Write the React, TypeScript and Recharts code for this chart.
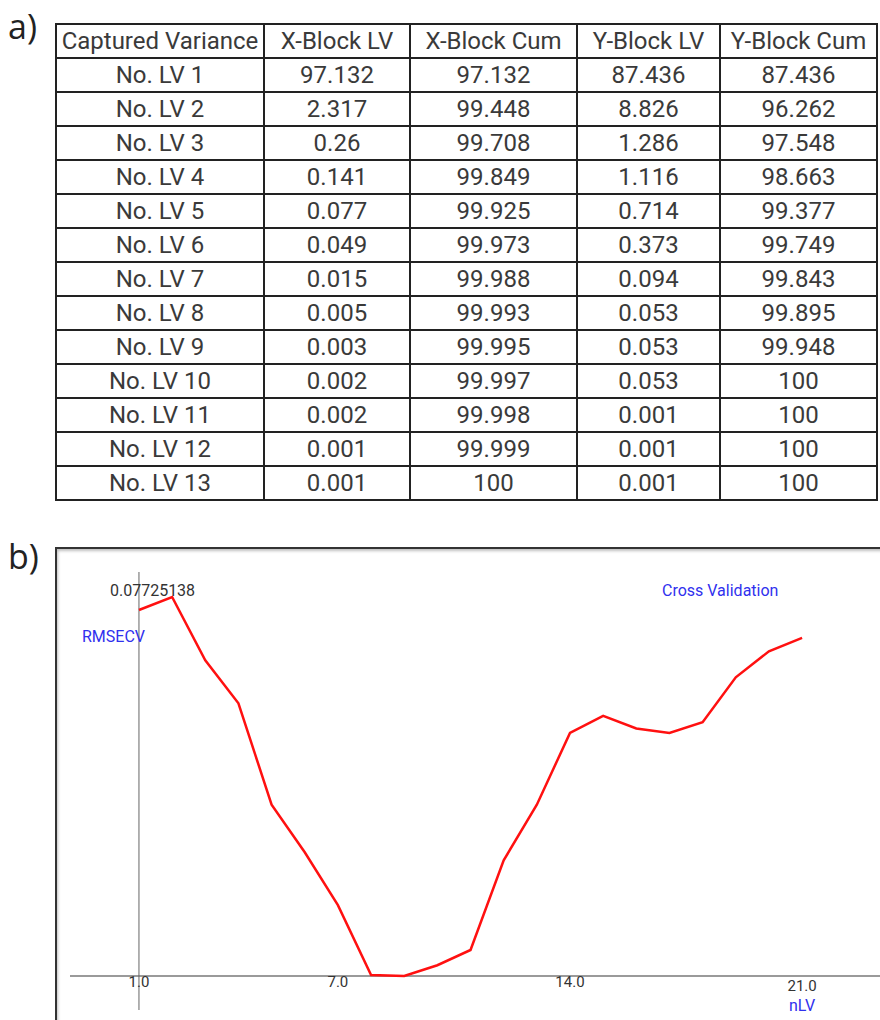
import React from 'react';
import { LineChart, Line, XAxis, YAxis, ReferenceLine, ReferenceDot } from 'recharts';

const tableHeaders = ['Captured Variance', 'X-Block LV', 'X-Block Cum', 'Y-Block LV', 'Y-Block Cum'];
const lvNames = ['No. LV 1', 'No. LV 2', 'No. LV 3', 'No. LV 4', 'No. LV 5', 'No. LV 6', 'No. LV 7', 'No. LV 8', 'No. LV 9', 'No. LV 10', 'No. LV 11', 'No. LV 12', 'No. LV 13'];
const xBlockLV = ['97.132', '2.317', '0.26', '0.141', '0.077', '0.049', '0.015', '0.005', '0.003', '0.002', '0.002', '0.001', '0.001'];
const xBlockCum = ['97.132', '99.448', '99.708', '99.849', '99.925', '99.973', '99.988', '99.993', '99.995', '99.997', '99.998', '99.999', '100'];
const yBlockLV = ['87.436', '8.826', '1.286', '1.116', '0.714', '0.373', '0.094', '0.053', '0.053', '0.053', '0.001', '0.001', '0.001'];
const yBlockCum = ['87.436', '96.262', '97.548', '98.663', '99.377', '99.749', '99.843', '99.895', '99.948', '100', '100', '100', '100'];

const nLV = [1, 2, 3, 4, 5, 6, 7, 8, 9, 10, 11, 12, 13, 14, 15, 16, 17, 18, 19, 20, 21];
const rmsecv = [0.0758, 0.07725138, 0.0702, 0.0654, 0.0541, 0.0488, 0.0429, 0.0351, 0.035, 0.0362, 0.0379, 0.0479, 0.0541, 0.0621, 0.064, 0.0626, 0.0621, 0.0633, 0.0683, 0.0712, 0.0727];
const xTicks = [1, 7, 14, 21];
const xTickLabels = ['1.0', '7.0', '14.0', '21.0'];
const yMin = 0.035;
const yMaxLabel = '0.07725138';

const chartData = nLV.map((n, i) => ({ nLV: n, rmsecv: rmsecv[i] }));

const cellBorder = '2px solid #222';
const colWidths = [208, 146, 167, 143, 157];

const FONT = 'Roboto, "Noto Sans", sans-serif';

export default function App() {
  const rows = lvNames.map((name, i) => [name, xBlockLV[i], xBlockCum[i], yBlockLV[i], yBlockCum[i]]);
  return (
    <div style={{ position: 'absolute', left: 0, top: 0, width: 880, height: 1020, overflow: 'hidden', background: '#fff', fontFamily: FONT }}>
      <div style={{ position: 'absolute', left: 8, top: 8, fontSize: 34, fontFamily: '"Open Sans", sans-serif', color: '#222', lineHeight: '36px' }}>a)</div>
      <table style={{ position: 'absolute', left: 55, top: 23, borderCollapse: 'collapse', tableLayout: 'fixed', width: 821, fontSize: 24, color: '#3a3a3a' }}>
        <colgroup>
          {colWidths.map((w, i) => <col key={i} style={{ width: w }} />)}
        </colgroup>
        <tbody>
          <tr style={{ height: 34 }}>
            {tableHeaders.map((h, i) => (
              <td key={i} style={{ border: cellBorder, padding: 0, textAlign: 'center', whiteSpace: 'nowrap', lineHeight: '30px', overflow: 'visible' }}>{h}</td>
            ))}
          </tr>
          {rows.map((r, ri) => (
            <tr key={ri} style={{ height: 34 }}>
              {r.map((c, ci) => (
                <td key={ci} style={{ border: cellBorder, padding: 0, textAlign: 'center', whiteSpace: 'nowrap', lineHeight: '30px' }}>{c}</td>
              ))}
            </tr>
          ))}
        </tbody>
      </table>

      <div style={{ position: 'absolute', left: 8, top: 538, fontSize: 34, fontFamily: '"Open Sans", sans-serif', color: '#222', lineHeight: '36px' }}>b)</div>
      <div style={{ position: 'absolute', left: 55, top: 547, width: 900, height: 600, borderTop: '2px solid #333', borderLeft: '2px solid #333', boxShadow: 'inset 1px 2px 3px rgba(0,0,0,0.25)' }} />

      <div style={{ position: 'absolute', left: 0, top: 548 }}>
        <LineChart width={880} height={472} data={chartData} margin={{ top: 24, right: 0, bottom: 10, left: 70 }}>
          <XAxis dataKey="nLV" type="number" domain={[-1.08, 23.35]} hide allowDataOverflow />
          <YAxis type="number" domain={[0.03121, 0.08004]} hide allowDataOverflow />
          <ReferenceLine y={yMin} stroke="#9a9a9a" strokeWidth={2} />
          <ReferenceLine x={1} stroke="#666" strokeWidth={1} />
          <Line dataKey="rmsecv" type="linear" stroke="#ff1010" strokeWidth={2.5} dot={false} isAnimationActive={false} />
          {xTicks.map((t, i) => (
            <ReferenceDot
              key={t}
              x={t}
              y={yMin}
              r={1}
              fillOpacity={0}
              strokeOpacity={0}
              label={{
                content: (props: any) => {
                  const vb = props.viewBox || {};
                  const cx = (vb.x || 0) + (vb.width || 0) / 2;
                  const cy = (vb.y || 0) + (vb.height || 0) / 2;
                  return (
                    <text x={cx} y={cy + (i === 3 ? 15 : 11)} textAnchor="middle" fontSize={15} fontFamily={FONT} fill="#333">
                      {xTickLabels[i]}
                    </text>
                  );
                },
              }}
            />
          ))}
          <ReferenceDot
            x={1}
            y={rmsecv[1]}
            r={1}
            fillOpacity={0}
            strokeOpacity={0}
            label={{
              content: (props: any) => {
                const vb = props.viewBox || {};
                const cx = (vb.x || 0) + (vb.width || 0) / 2;
                const cy = (vb.y || 0) + (vb.height || 0) / 2;
                return (
                  <text x={cx - 29} y={cy - 1} textAnchor="start" fontSize={16} fontFamily={FONT} fill="#333">
                    {yMaxLabel}
                  </text>
                );
              },
            }}
          />
        </LineChart>
      </div>

      <div style={{ position: 'absolute', left: 82, top: 628, fontSize: 16, color: '#3030ee', lineHeight: '18px' }}>RMSECV</div>
      <div style={{ position: 'absolute', left: 662, top: 582, fontSize: 16, color: '#3030ee', lineHeight: '18px' }}>Cross Validation</div>
      <div style={{ position: 'absolute', left: 789, top: 997, fontSize: 16, color: '#3030ee', lineHeight: '18px' }}>nLV</div>
    </div>
  );
}
